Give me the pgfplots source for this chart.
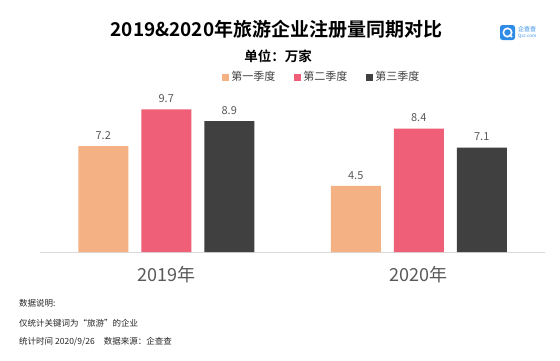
\documentclass[border=0pt]{standalone}
\usepackage{pgfplots}
\pgfplotsset{compat=1.18}
\usepackage{fontspec}
\setmainfont{Noto Sans CJK SC}[BoldFont={Noto Sans CJK SC Bold}]
\definecolor{cPeach}{HTML}{F4B183}
\definecolor{cPink}{HTML}{EF5F77}
\definecolor{cDark}{HTML}{404040}
\definecolor{cGrayTxt}{HTML}{595959}
\definecolor{cAxis}{HTML}{D9D9D9}
\definecolor{cLogo}{HTML}{2E8BE6}
\begin{document}
\begin{tikzpicture}[x=1bp,y=1bp]
\path[use as bounding box, fill=white] (0,0) rectangle (560,360);
\node[font=\bfseries\fontsize{19bp}{22bp}\selectfont, text=black] at (276.5,331) {2019\&2020年旅游企业注册量同期对比};
\node[font=\bfseries\fontsize{13.5bp}{16bp}\selectfont, text=black] at (278,304) {单位：万家};
% logo
\fill[cLogo, rounded corners=2.5bp] (500,320) rectangle (515,335);
\draw[white, line width=1.6bp] (507.5,327.5) circle (4.2bp);
\draw[white, line width=1.6bp] (509.5,325.5) -- (512,323);
\node[font=\fontsize{6bp}{7bp}\selectfont, text=cLogo, anchor=west, inner sep=0pt] at (518,331) {企查查};
\node[font=\fontsize{4.5bp}{5bp}\selectfont, text=cLogo, anchor=west, inner sep=0pt] at (518,323.5) {Qcc.com};
\begin{axis}[
  at={(40bp,108bp)}, anchor=south west,
  scale only axis, width=505bp, height=147bp,
  xmin=-0.5, xmax=1.5, ymin=0, ymax=10,
  axis x line=bottom, axis y line=none,
  axis line style={cAxis, line width=0.8bp, -},
  xtick={0,1}, xticklabels={2019年,2020年},
  major tick length=0pt,
  xticklabel style={font=\fontsize{18bp}{20bp}\selectfont, text=cGrayTxt, yshift=-11bp},
  ytick=\empty,
  ybar=13bp, bar width=50bp,
  nodes near coords,
  every node near coord/.append style={font=\fontsize{11bp}{13bp}\selectfont, text=cGrayTxt, anchor=south, yshift=3bp},
  /pgf/number format/.cd, fixed, fixed zerofill, precision=1, assume math mode=true, /pgfplots/.cd,
  clip=false,
  legend columns=3,
  legend style={at={(0.558,1.19)}, anchor=center, draw=none, fill=none,
    font=\fontsize{11bp}{13bp}\selectfont, text=cDark,
    /tikz/every even column/.append style={column sep=17bp},
    /tikz/every odd column/.append style={column sep=0bp}},
  legend image code/.code={\fill[#1] (0bp,-3.5bp) rectangle (7bp,3.5bp);},
]
\addplot[fill=cPeach, draw=none] coordinates {(0,7.2) (1,4.5)};
\addplot[fill=cPink, draw=none] coordinates {(0,9.7) (1,8.4)};
\addplot[fill=cDark, draw=none] coordinates {(0,8.9) (1,7.1)};
\legend{第一季度,第二季度,第三季度}
\end{axis}
\begin{scope}[every node/.style={anchor=west, inner sep=0pt, font=\fontsize{8.5bp}{10bp}\selectfont, text=black!85}]
\node at (19,57) {数据说明:};
\node at (19,37) {仅统计关键词为“旅游”的企业};
\node at (19,18) {统计时间 2020/9/26\hspace{9bp}数据来源：企查查};
\end{scope}
\end{tikzpicture}
\end{document}
